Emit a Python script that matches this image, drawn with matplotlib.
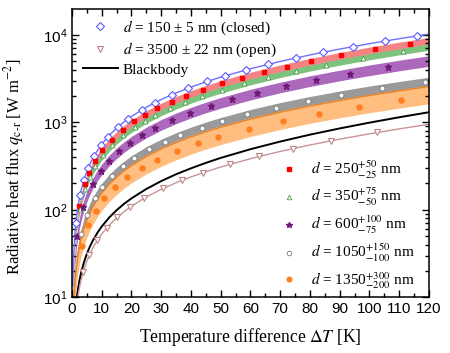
import matplotlib
matplotlib.use("Agg")
import matplotlib.pyplot as plt
from matplotlib.lines import Line2D
from matplotlib.ticker import MultipleLocator, LogLocator, NullFormatter

plt.rcParams['font.family'] = ['Liberation Serif', 'DejaVu Serif']
plt.rcParams['mathtext.fontset'] = 'stix'

# temperature grid for the curves and bands [K]
dT = [0.25, 0.5, 0.75, 1, 1.5, 2, 2.5, 3, 4, 5, 6, 7, 8.5, 10, 12.5, 15, 17.5, 20,
      25, 30, 35, 40, 45, 50, 60, 70, 80, 90, 100, 110, 120]

blackbody = [1.54, 3.07, 4.61, 6.15, 9.25, 12.4, 15.5, 18.7, 25.0, 31.4, 37.9, 44.4, 54.3, 64.4, 81.5, 99.0, 117, 135,
             173, 213, 255, 298, 344, 392, 493, 603, 723, 852, 992, 1143, 1305]
line_150 = [13.6, 27.0, 40.5, 54.1, 81.3, 108.7, 136.1, 163.7, 219.0, 275.0, 331.3, 388.1, 474.1, 561.3, 708.7, 859.1, 1012, 1169,
            1490, 1825, 2171, 2531, 2903, 3289, 4102, 4972, 5900, 6888, 7938, 9052, 10232]
line_3500 = [1.28, 2.55, 3.82, 5.10, 7.67, 10.24, 12.83, 15.43, 20.65, 25.92, 31.22, 36.58, 44.68, 52.88, 66.75, 80.89, 95.29, 110.0,
             140.2, 171.5, 204.0, 237.5, 272.4, 308.4, 384.1, 464.9, 550.9, 642.3, 739.2, 841.7, 950.1]

# calculated ranges (upper / lower edge of each band)
band_250_hi = [12.3, 24.6, 36.9, 49.2, 74.0, 98.9, 123.9, 149.0, 199.4, 250.4, 301.6, 353.5, 431.7, 511.1, 645.4, 782.4, 922.0, 1064,
               1358, 1662, 1978, 2306, 2646, 2999, 3741, 4535, 5382, 6286, 7246, 8265, 9347]
band_250_lo = [10.4, 20.7, 31.1, 41.4, 62.3, 83.3, 104.3, 125.4, 167.8, 210.7, 253.9, 297.5, 363.4, 430.2, 543.2, 658.5, 776.1, 896.0,
               1143, 1399, 1665, 1941, 2227, 2524, 3149, 3817, 4530, 5291, 6099, 6957, 7867]
band_350_hi = [10.6, 21.1, 31.6, 42.2, 63.4, 84.8, 106.2, 127.7, 170.9, 214.5, 258.4, 302.8, 369.8, 437.9, 552.7, 669.9, 789.4, 911.2,
               1162, 1421, 1692, 1971, 2261, 2562, 3193, 3867, 4587, 5352, 6165, 7026, 7937]
band_350_lo = [8.90, 17.7, 26.6, 35.5, 53.4, 71.4, 89.4, 107.5, 143.8, 180.5, 217.5, 254.9, 311.3, 368.5, 465.2, 563.9, 664.4, 767.0,
               977.9, 1196, 1424, 1659, 1903, 2156, 2687, 3255, 3860, 4505, 5189, 5914, 6681]
band_600_hi = [8.10, 16.1, 24.2, 32.3, 48.5, 64.8, 81.2, 97.6, 130.6, 163.9, 197.3, 231.2, 282.2, 333.8, 421.1, 509.9, 600.3, 692.3,
               880.9, 1076, 1278, 1486, 1701, 1923, 2387, 2880, 3401, 3951, 4530, 5139, 5779]
band_600_lo = [6.12, 12.2, 18.3, 24.4, 36.7, 49.0, 61.4, 73.8, 98.8, 123.9, 149.2, 174.8, 213.4, 252.4, 318.4, 385.6, 453.9, 523.5,
               666.1, 813.7, 966.2, 1124, 1286, 1454, 1805, 2178, 2571, 2987, 3425, 3886, 4370]
band_1050_hi = [4.90, 9.76, 14.6, 19.5, 29.3, 39.2, 49.1, 59.0, 78.9, 99.0, 119.1, 139.5, 170.1, 201.1, 253.4, 306.5, 360.4, 415.2,
                527.1, 642.3, 760.8, 882.5, 1008, 1136, 1403, 1683, 1976, 2283, 2603, 2934, 3277]
band_1050_lo = [3.93, 7.83, 11.8, 15.7, 23.6, 31.5, 39.4, 47.4, 63.3, 79.5, 95.6, 112.0, 136.6, 161.5, 203.5, 246.1, 289.3, 333.3,
                423.2, 515.6, 610.8, 708.6, 809.1, 912.1, 1126, 1351, 1587, 1833, 2089, 2355, 2631]
band_1350_hi = [3.77, 7.51, 11.3, 15.0, 22.6, 30.2, 37.8, 45.5, 60.8, 76.3, 91.8, 107.5, 131.1, 155.1, 195.4, 236.4, 278.1, 320.4,
                407.1, 496.4, 588.3, 682.9, 780.3, 880.5, 1089, 1308, 1539, 1780, 2031, 2294, 2567]
band_1350_lo = [2.39, 4.76, 7.15, 9.53, 14.3, 19.1, 24.0, 28.8, 38.5, 48.3, 58.2, 68.1, 83.1, 98.3, 123.9, 149.8, 176.2, 203.1,
                258.0, 314.6, 372.9, 432.8, 494.5, 558.0, 690.0, 829.0, 975.1, 1128, 1287, 1454, 1627]

# measured points
dT_150 = [1.3, 2.7, 4.0, 5.4, 7.4, 9.7, 12.1, 15.4, 18.8, 23.5, 27.9, 33.6, 39.0, 45.4, 51.4, 58.5, 65.9, 75.3, 84.4, 94.5, 105.2, 116.0]
q_150 = [70.4, 147, 219, 298, 411, 544, 685, 884, 1093, 1392, 1683, 2073, 2459, 2935, 3400, 3976, 4607, 5458, 6323, 7349, 8511, 9749]
dT_3500 = [3.8, 5.8, 8.5, 11.7, 15.2, 19.5, 24.3, 30.7, 36.9, 44.1, 53.0, 62.9, 74.4, 87.1, 102.7]
q_3500 = [19.6, 30.2, 44.7, 62.3, 82.0, 107.0, 135.9, 176.0, 216.6, 266.0, 330.6, 407.0, 502.1, 615.3, 766.3]
dT_250 = [2.45, 4.3, 5.8, 7.7, 10.2, 13.3, 17.0, 20.9, 24.5, 28.7, 33.5, 38.5, 44.1, 50.6, 57.0, 64.7, 72.4, 80.5, 90.6, 102.0, 113.6]
q_250 = [111, 197, 267, 358, 479, 632, 820, 1024, 1218, 1451, 1727, 2024, 2371, 2790, 3223, 3768, 4342, 4978, 5818, 6831, 7934]
dT_350 = [2.6, 4.4, 6.0, 7.9, 10.4, 13.5, 17.3, 21.2, 24.5, 27.9, 32.9, 38.0, 43.6, 50.3, 57.9, 65.8, 75.3, 85.4, 97.9, 111.4]
q_350 = [101, 173, 237, 315, 418, 550, 715, 890, 1042, 1203, 1447, 1705, 1999, 2366, 2804, 3283, 3892, 4582, 5496, 6561]
dT_600 = [1.8, 3.8, 6.9, 9.7, 12.4, 15.9, 19.5, 23.4, 27.9, 33.5, 39.7, 46.7, 53.9, 62.1, 71.8, 82.2, 93.4, 106.3]
q_600 = [50.7, 108, 198, 281, 363, 472, 586, 713, 864, 1058, 1281, 1544, 1827, 2164, 2584, 3060, 3604, 4270]
dT_1050 = [3.0, 4.9, 7.7, 10.2, 13.5, 17.2, 21.0, 26.0, 31.3, 36.3, 43.6, 50.3, 59.0, 68.5, 79.4, 90.6, 104.1, 118.6]
q_1050 = [52.9, 86.9, 138, 184, 246, 317, 392, 493, 603, 710, 871, 1025, 1233, 1470, 1755, 2063, 2453, 2893]
dT_1350 = [3.2, 5.5, 8.0, 10.9, 14.5, 18.6, 23.4, 28.7, 35.2, 42.5, 49.2, 59.5, 71.0, 83.1, 96.6, 110.8]
q_1350 = [38.6, 66.8, 97.9, 135, 181, 235, 300, 374, 468, 577, 681, 847, 1042, 1258, 1512, 1792]

fig = plt.figure(figsize=(4.5, 3.53), dpi=100)
ax = fig.add_axes([0.16, 0.158, 0.793, 0.816])

ax.fill_between(dT, band_1350_lo, band_1350_hi, color='#ffbd7f', lw=0)
ax.plot(dT, band_1350_hi, color='#e8842c', lw=1.2)
ax.fill_between(dT, band_1050_lo, band_1050_hi, color='#9a9a9a', lw=0)
ax.fill_between(dT, band_600_lo, band_600_hi, color='#ac68bc', lw=0)
ax.fill_between(dT, band_350_lo, band_350_hi, color='#7dc27d', lw=0)
ax.fill_between(dT, band_250_lo, band_250_hi, color='#f58383', lw=0)

ax.plot(dT, blackbody, color='black', lw=1.4)
ax.plot(dT, line_150, color='#6f6fff', lw=1)
ax.plot(dT, line_3500, color='#c79595', lw=1)

ax.plot(dT_150, q_150, 'D', ms=4, mfc='white', mec='#5a5aff', mew=0.8)
ax.plot(dT_3500, q_3500, 'v', ms=4.6, mfc='white', mec='#c08585', mew=0.8)
ax.plot(dT_250, q_250, 's', ms=3.4, color='#ff0000', mec='#ff0000')
ax.plot(dT_350, q_350, '^', ms=3.5, mfc='white', mec='#4a9a4a', mew=0.6)
ax.plot(dT_600, q_600, '*', ms=4.8, color='#6e1a74')
ax.plot(dT_1050, q_1050, 'o', ms=3.6, mfc='white', mec='#777777', mew=0.6)
ax.plot(dT_1350, q_1350, 'o', ms=3.6, color='#ff7f1e')

ax.set_yscale('log')
ax.set_xlim(0, 120)
ax.set_ylim(10, 1.97e4)
ax.xaxis.set_major_locator(MultipleLocator(10))
ax.xaxis.set_minor_locator(MultipleLocator(5))
ax.yaxis.set_major_locator(LogLocator(base=10))
ax.yaxis.set_minor_locator(LogLocator(base=10, subs=range(2, 10)))
ax.yaxis.set_minor_formatter(NullFormatter())
ax.tick_params(which='both', direction='in', top=True, right=True, width=1)
ax.tick_params(which='major', length=5)
ax.tick_params(which='minor', length=3)
for lab in ax.get_xticklabels() + ax.get_yticklabels():
    lab.set_fontfamily('Liberation Sans')
    lab.set_fontsize(11)
for sp in ax.spines.values():
    sp.set_linewidth(1.1)

ax.set_xlabel(r'Temperature difference $\Delta T$ [K]', fontsize=12.7, labelpad=7)
ax.set_ylabel(r'Radiative heat flux $q_{\mathrm{c\text{-}r}}$ [W m$^{-2}$]', fontsize=12)
ax.yaxis.set_label_coords(-0.128, 0.451)

h1 = [Line2D([], [], ls='none', marker='D', ms=4, mfc='white', mec='#5a5aff', mew=0.8),
      Line2D([], [], ls='none', marker='v', ms=4.6, mfc='white', mec='#c08585', mew=0.8),
      Line2D([], [], color='black', lw=1.4)]
l1 = ['$d$ = 150 ± 5 nm (closed)', '$d$ = 3500 ± 22 nm (open)', 'Blackbody']
leg1 = ax.legend(h1, l1, loc='upper left', bbox_to_anchor=(-0.008, 1.015), frameon=False,
                 fontsize=11, handlelength=2.3, labelspacing=0.25, handletextpad=0.3)
ax.add_artist(leg1)

h2 = [Line2D([], [], ls='none', marker='s', ms=3, color='#ff0000'),
      Line2D([], [], ls='none', marker='^', ms=3.3, mfc='white', mec='#4a9a4a', mew=0.6),
      Line2D([], [], ls='none', marker='*', ms=4.3, color='#6e1a74'),
      Line2D([], [], ls='none', marker='o', ms=3.3, mfc='white', mec='#777777', mew=0.6),
      Line2D([], [], ls='none', marker='o', ms=3.3, color='#ff7f1e')]
l2 = ['$d$ = 250$^{+50}_{-25}$ nm', '$d$ = 350$^{+75}_{-50}$ nm', '$d$ = 600$^{+100}_{-75}$ nm',
      '$d$ = 1050$^{+150}_{-100}$ nm', '$d$ = 1350$^{+300}_{-200}$ nm']
ax.legend(h2, l2, loc='lower right', bbox_to_anchor=(1.0, -0.025), frameon=False,
          fontsize=11, handlelength=1.5, labelspacing=0.38, handletextpad=0.7)

fig.savefig('out.png', dpi=100)
